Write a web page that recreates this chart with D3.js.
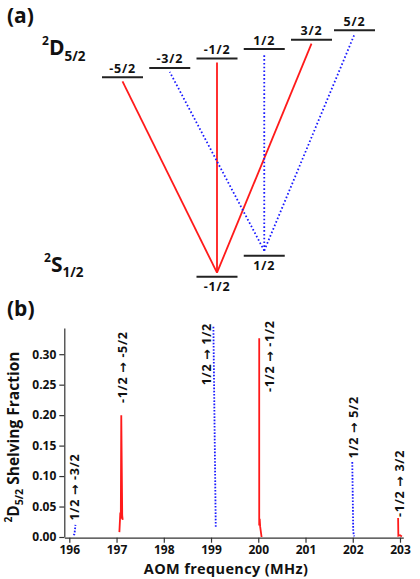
<!DOCTYPE html>
<html>
<head>
<meta charset="utf-8">
<script src="https://cdn.jsdelivr.net/npm/d3@7"></script>
<style>
body { margin: 0; background: #fff; }
svg text { font-family: "Open Sans", "DejaVu Sans", sans-serif; font-weight: 700; fill: #111; }
.axis path, .axis line { stroke: #333; stroke-width: 1.2; }
.axis text { font-size: 12px; font-family: "Open Sans", sans-serif; font-weight: 700; fill: #111; }
</style>
</head>
<body>
<div class="chart"></div>
<script>
// (a) level scheme
const dLevels = [-2.5, -1.5, -0.5, 0.5, 1.5, 2.5]
const dLabels = ["-5/2", "-3/2", "-1/2", "1/2", "3/2", "5/2"]
const sLevels = [-0.5, 0.5]
const sLabels = ["-1/2", "1/2"]
// transitions [S m, D m]
const redLines = [[-0.5, -2.5], [-0.5, -0.5], [-0.5, 1.5]]
const blueLines = [[0.5, -1.5], [0.5, 0.5], [0.5, 2.5]]

// (b) spectrum
const xTicks = [196, 197, 198, 199, 200, 201, 202, 203]
const yTicks = [0, 0.05, 0.10, 0.15, 0.20, 0.25, 0.30]
const peakNames = ["1/2 → -3/2", "-1/2 → -5/2", "1/2 → 1/2", "-1/2 → -1/2", "1/2 → 5/2", "-1/2 → 3/2"]
const peakColors = ["blue", "red", "blue", "red", "blue", "red"]
const peakFreq = [
  [196.09, 196.10, 196.11, 196.13],
  [197.06, 197.08, 197.09, 197.10, 197.12, 197.13],
  [199.05, 199.10],
  [200.02, 200.02, 200.03, 200.04, 200.07],
  [201.99, 202.01, 202.02, 202.03],
  [202.96, 202.965, 203.00, 203.04]
]
const peakValue = [
  [0.003, 0.004, 0.005, 0.02],
  [0.008, 0.04, 0.03, 0.2, 0.035, 0.028],
  [0.345, 0.016],
  [0.326, 0.019, 0.03, 0.017, 0],
  [0.123, 0.01, 0.004, 0.001],
  [0.031, 0.002, 0.003, 0.001]
]
const labelFreq = [196.10, 197.13, 198.91, 200.23, 202.01, 202.98]
const labelValue = [0.027, 0.22, 0.249, 0.238, 0.129, 0.033]

let svg = d3.select('div.chart').append('svg').attr('width', 420).attr('height', 579)

//panel (a)
let mx = d3.scaleLinear().domain([-2.5, 1.5, 2.5]).range([122.5, 311.5, 354.5])
let dy = d3.scaleLinear().domain([-2.5, 2.5]).range([77.3, 30.3])
let sy = d3.scaleLinear().domain([-0.5, 0.5]).range([276.7, 255.7])

svg.append('text').attr('x', 7).attr('y', 23).style('font-size', '21px').text('(a)')

let dTitle = svg.append('text').attr('x', 42).attr('y', 55).style('font-size', '21px')
dTitle.append('tspan').style('font-size', '12px').attr('dy', -10).text('2')
dTitle.append('tspan').attr('dy', 10).text('D')
dTitle.append('tspan').style('font-size', '13.5px').attr('dy', 6).text('5/2')

let sTitle = svg.append('text').attr('x', 44).attr('y', 272).style('font-size', '21px')
sTitle.append('tspan').style('font-size', '12px').attr('dy', -10).text('2')
sTitle.append('tspan').attr('dy', 10).text('S')
sTitle.append('tspan').style('font-size', '13.5px').attr('dy', 5).text('1/2')

// transitions
svg.append('g').selectAll('line').data(redLines).enter().append('line')
  .attr('x1', d => mx(d[0])).attr('y1', d => sy(d[0]) - 4)
  .attr('x2', d => mx(d[1])).attr('y2', d => dy(d[1]) + 4)
  .attr('stroke', '#ff1a1a').attr('stroke-width', 1.8)

svg.append('g').selectAll('line').data(blueLines).enter().append('line')
  .attr('x1', d => mx(d[0])).attr('y1', d => sy(d[0]) - 5)
  .attr('x2', d => mx(d[1])).attr('y2', d => dy(d[1]) + 4)
  .attr('stroke', '#1a1aff').attr('stroke-width', 1.8).attr('stroke-dasharray', '1.6,2.2')

// levels
svg.append('g').selectAll('line').data(dLevels).enter().append('line')
  .attr('x1', d => mx(d) - 20.5).attr('x2', d => mx(d) + 20.5)
  .attr('y1', d => dy(d)).attr('y2', d => dy(d))
  .attr('stroke', '#222').attr('stroke-width', 2)

svg.append('g').selectAll('text').data(dLevels).enter().append('text')
  .attr('x', d => mx(d)).attr('y', d => dy(d) - 4.5)
  .attr('text-anchor', 'middle').style('font-size', '12.5px').style('letter-spacing', '0.8px')
  .text((d, i) => dLabels[i])

svg.append('g').selectAll('line').data(sLevels).enter().append('line')
  .attr('x1', d => mx(d) - 20.5).attr('x2', d => mx(d) + 20.5)
  .attr('y1', d => sy(d)).attr('y2', d => sy(d))
  .attr('stroke', '#222').attr('stroke-width', 2)

svg.append('g').selectAll('text').data(sLevels).enter().append('text')
  .attr('x', d => mx(d)).attr('y', d => sy(d) + 14)
  .attr('text-anchor', 'middle').style('font-size', '12.5px').style('letter-spacing', '0.8px')
  .text((d, i) => sLabels[i])

//panel (b)
svg.append('text').attr('x', 7).attr('y', 316).style('font-size', '21px').text('(b)')

let x = d3.scaleLinear().domain([195.894, 203.07]).range([64.3, 403.3])
let y = d3.scaleLinear().domain([0, 0.343]).range([537, 328])

svg.append('g').attr('class', 'axis')
  .attr('transform', 'translate(64.3,0)')
  .call(d3.axisLeft(y).tickValues(yTicks).tickSize(5).tickSizeOuter(0).tickPadding(3).tickFormat(d3.format('.2f')))

svg.append('g').attr('class', 'axis')
  .attr('transform', 'translate(0,537.7)')
  .call(d3.axisBottom(x).tickValues(xTicks).tickSize(5).tickSizeOuter(0).tickPadding(2.5).tickFormat(d3.format('d')))

svg.append('text').attr('x', 226).attr('y', 573.5).attr('text-anchor', 'middle')
  .style('font-size', '14.5px').style('letter-spacing', '0.35px').text('AOM frequency (MHz)')

let yTitle = svg.append('text').attr('transform', 'translate(19,437) rotate(-90)')
  .attr('text-anchor', 'middle').style('font-size', '15.5px')
yTitle.append('tspan').style('font-size', '10px').attr('dy', -7).text('2')
yTitle.append('tspan').attr('dy', 7).text('D')
yTitle.append('tspan').style('font-size', '10.5px').attr('dy', 4).text('5/2')
yTitle.append('tspan').attr('dy', -4).text(' Shelving Fraction')

let line = d3.line().x(d => x(d[0])).y(d => y(d[1]))

svg.append('g').selectAll('path').data(peakFreq).enter().append('path')
  .attr('d', (d, i) => line(d.map((f, j) => [f, peakValue[i][j]])))
  .attr('fill', 'none')
  .attr('stroke', (d, i) => peakColors[i] == 'red' ? '#ff1a1a' : '#1a1aff')
  .attr('stroke-width', 1.8)
  .attr('stroke-dasharray', (d, i) => peakColors[i] == 'red' ? null : '1.6,1.6')

svg.append('g').selectAll('text').data(peakNames).enter().append('text')
  .attr('transform', (d, i) => 'translate(' + x(labelFreq[i]) + ',' + y(labelValue[i]) + ') rotate(-90)')
  .attr('dy', '0.36em')
  .style('font-size', '12.5px').style('letter-spacing', '0.7px')
  .text(d => d)
</script>
</body>
</html>
